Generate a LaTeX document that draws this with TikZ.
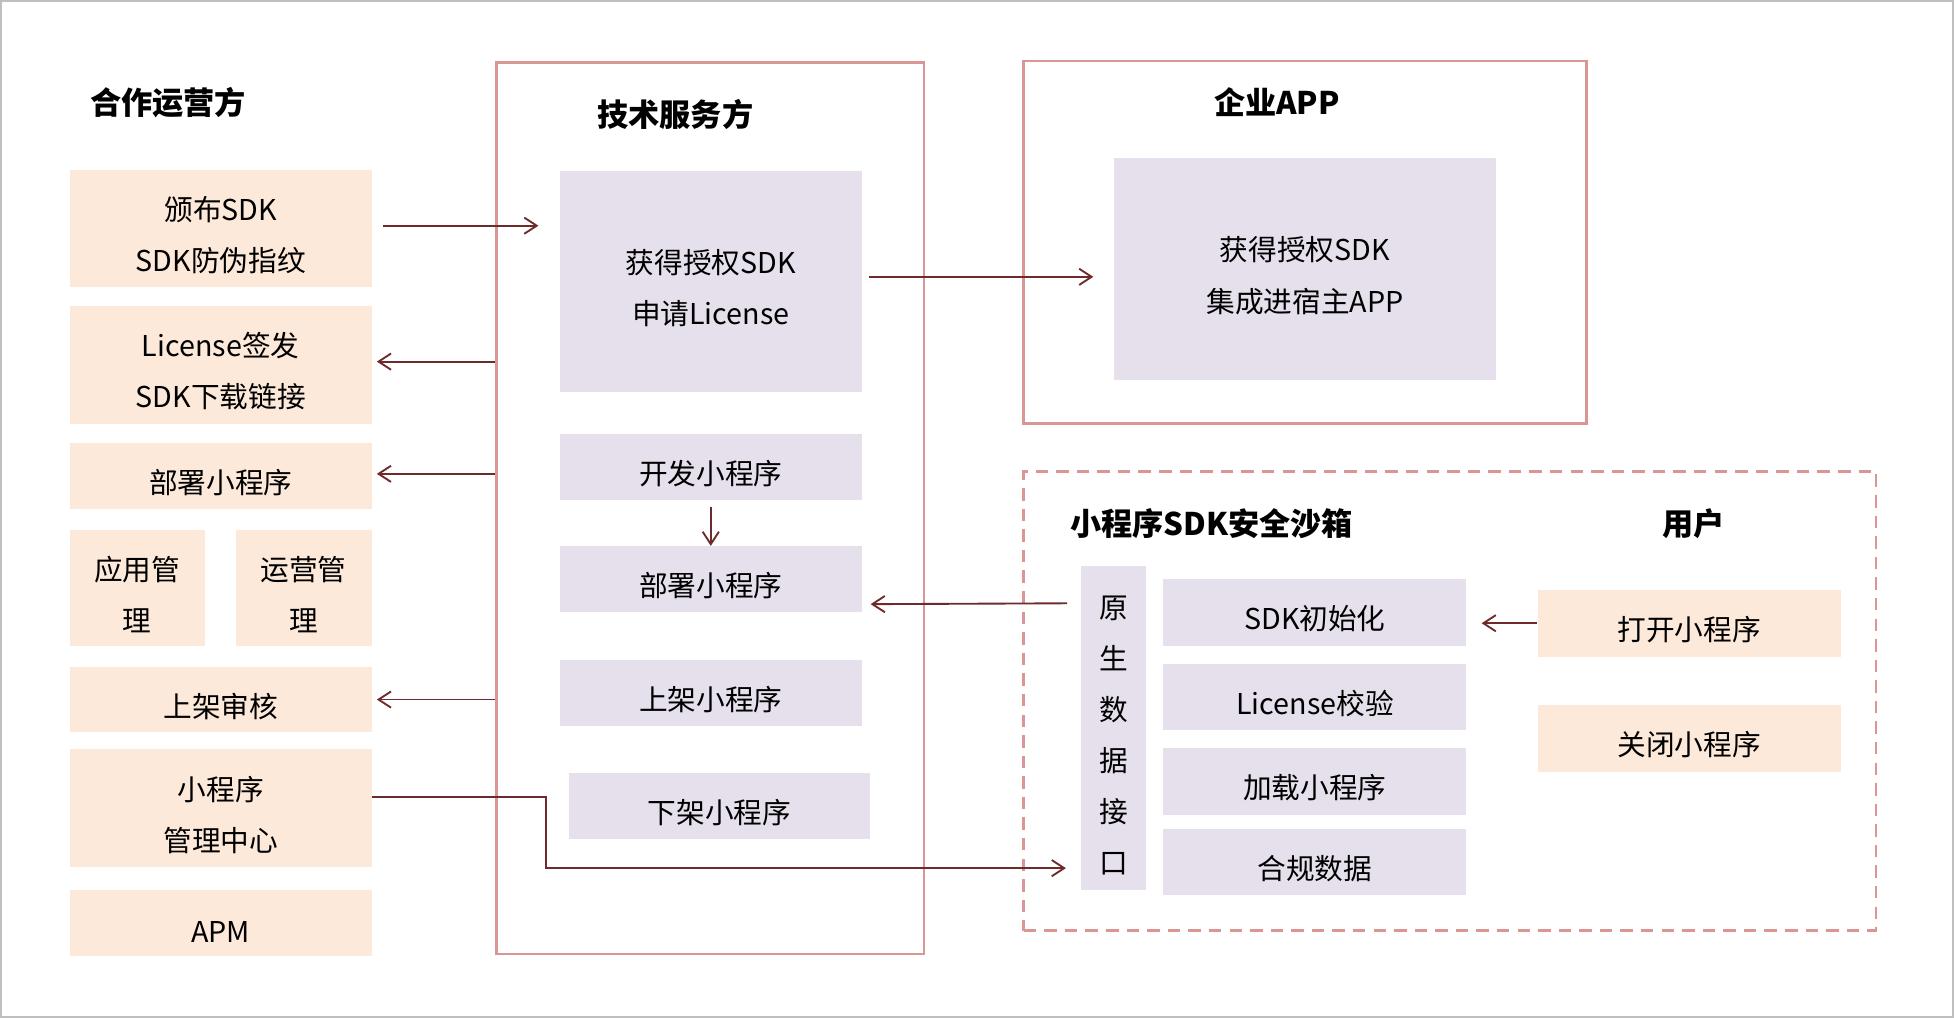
\documentclass[tikz,border=0pt]{standalone}
\usepackage{fontspec}
\setmainfont{Noto Sans CJK SC}
\usetikzlibrary{positioning}
\usetikzlibrary{arrows.meta}
\definecolor{peach}{HTML}{FCE9DA}
\definecolor{lilac}{HTML}{E6E0EC}
\definecolor{rosy}{HTML}{D99694}
\definecolor{wine}{HTML}{6E2B2B}
\definecolor{framegray}{HTML}{BFBFBF}
\newcommand{\padtop}{\rule{0pt}{30pt}}

\begin{document}
\begin{tikzpicture}[x=1pt,y=-1pt,
every node/.style={inner sep=0pt,align=center,font=\fontsize{23}{41}\selectfont},
peachbox/.style={fill=peach,minimum width=242pt,minimum height=53pt},
lilacbox/.style={fill=lilac,minimum width=242pt,minimum height=53pt},
group/.style={draw=rosy,line width=2.2pt},
title/.style={font=\fontsize{25}{30}\selectfont\bfseries},
flow/.style={draw=wine,line width=1.5pt,-{Straight Barb[length=10pt,width=13pt]}}]
\useasboundingbox (0,0) rectangle (1567,816.4);
\draw[framegray,line width=1.6pt] (0.8,0.8) rectangle (1566.2,815.6);

% containers
\node[group,minimum width=343pt,minimum height=715pt] (tech) at (569.5,407.5) {};
\node[group,minimum width=451pt,minimum height=290.5pt] (app) at (1046.5,194.25) {};
\node[group,dash pattern=on 10pt off 6.5pt,minimum width=683.5pt,minimum height=368.5pt] (sandbox) at (1162.75,562.25) {};

% titles
\node[title,anchor=west] (partnerT) at (72,82) {合作运营方};
\node[title] (techT) at (541.5,92) {技术服务方};
\node[title] (appT) at (1024,82) {企业APP};
\node[title,anchor=west] (sandboxT) at (858,420) {小程序SDK安全沙箱};
\node[title] (userT) at (1358,420) {用户};

% 合作运营方
\node[peachbox,minimum height=94pt] (issue) at (177,183) {\padtop 颁布SDK\\SDK防伪指纹};
\node[peachbox,minimum height=95pt] (licence) at (177,292.5) {\padtop License签发\\SDK下载链接};
\node[peachbox] (deployL) at (177,381.5) {\padtop 部署小程序};
\node[peachbox,minimum width=108pt,minimum height=93pt] (appmgmt) at (110,471.5) {\padtop 应用管\\理};
\node[peachbox,minimum width=109pt,minimum height=93pt] (opmgmt) at (243.5,471.5) {\padtop 运营管\\理};
\node[peachbox,minimum height=52pt] (review) at (177,561) {\padtop 上架审核};
\node[peachbox,minimum height=94pt] (centre) at (177,648) {\padtop 小程序\\管理中心};
\node[peachbox] (apm) at (177,740.5) {\padtop APM};

% 技术服务方
\node[lilacbox,minimum height=177pt] (grant) at (570,225.5) {\padtop 获得授权SDK\\申请License};
\node[lilacbox] (dev) at (570,374.5) {\padtop 开发小程序};
\node[lilacbox] (deployM) at (570,464.5) {\padtop 部署小程序};
\node[lilacbox] (publish) at (570,555.5) {\padtop 上架小程序};
\node[lilacbox] (unpublish) at (577,646.5) {\padtop 下架小程序};

% 企业APP
\node[lilacbox,minimum width=307pt,minimum height=177.5pt] (integrate) at (1046.5,215.75) {\padtop 获得授权SDK\\集成进宿主APP};

% 沙箱 and 用户
\node[lilacbox,minimum width=52pt,minimum height=260pt] (native) at (893,584) {\padtop 原\\生\\数\\据\\接\\口};
\node[lilacbox,minimum width=243pt,minimum height=53.4pt] (init) at (1054.5,491) {\padtop SDK初始化};
\node[lilacbox,minimum width=243pt,minimum height=53.4pt] (verify) at (1054.5,559) {\padtop License校验};
\node[lilacbox,minimum width=243pt,minimum height=53.4pt] (load) at (1054.5,626.5) {\padtop 加载小程序};
\node[lilacbox,minimum width=243pt,minimum height=53.4pt] (comply) at (1054.5,691.4) {\padtop 合规数据};
\node[peachbox,minimum width=243pt,minimum height=53.6pt] (open) at (1354.5,499.8) {\padtop 打开小程序};
\node[peachbox,minimum width=243pt,minimum height=53.4pt] (close) at (1354.5,592) {\padtop 关闭小程序};

% connectors
\coordinate (issueOut) at ([xshift=9pt,yshift=2pt]issue.east);
\coordinate (grantOut) at ([xshift=6pt,yshift=3.5pt]grant.east);
\draw[flow] (issueOut) -- ([xshift=-17pt]grant.west |- issueOut);
\draw[flow] ([yshift=2.5pt]tech.west |- licence.east) -- ([xshift=4pt,yshift=2.5pt]licence.east);
\draw[flow] ([yshift=1.5pt]tech.west |- deployL.east) -- ([xshift=4pt,yshift=1.5pt]deployL.east);
\draw[flow] (tech.west |- review.east) -- ([xshift=4pt]review.east);
\draw[flow] (grantOut) -- ([xshift=-16pt]integrate.west |- grantOut);
\draw[flow] ([yshift=-5pt]dev.south) -- (deployM.north);
\draw[flow] ([xshift=-11pt,yshift=-30pt]native.north west) -- ([xshift=7pt,yshift=-20pt]deployM.east);
\draw[flow] (open.west) -- ([xshift=12pt]init.east |- open.west);
\draw[flow] ([yshift=9pt]centre.east) -- ++(140,0) |- ([xshift=-12pt,yshift=18pt]native.south west);
\end{tikzpicture}
\end{document}
